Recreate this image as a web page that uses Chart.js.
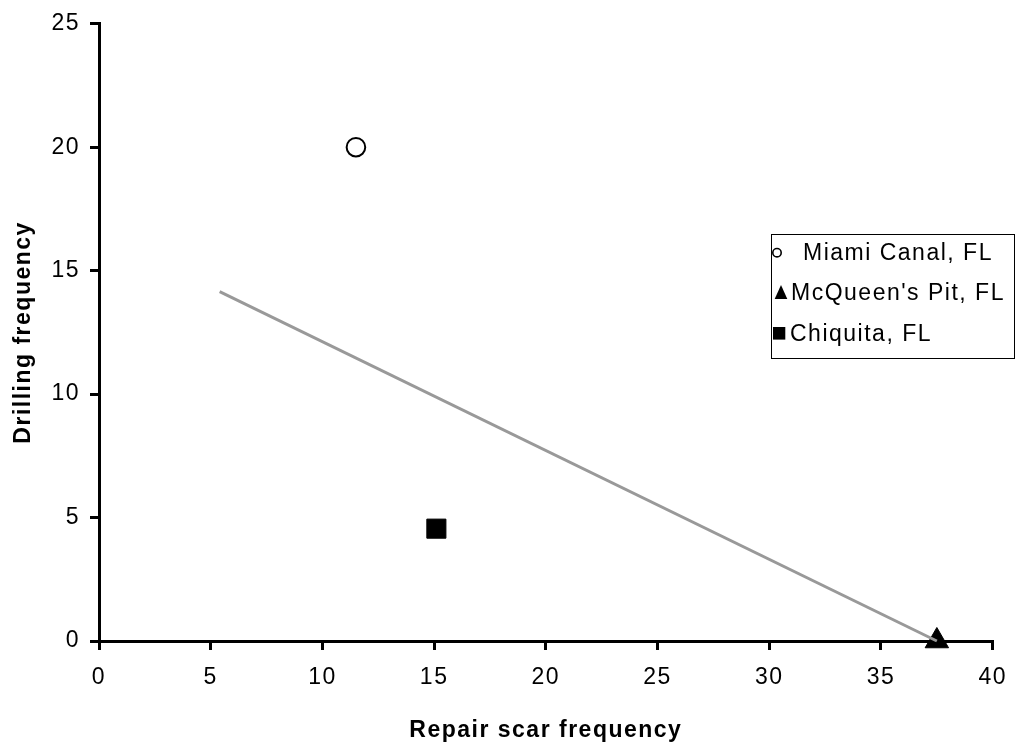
<!DOCTYPE html>
<html>
<head>
<meta charset="utf-8">
<script src="https://cdn.jsdelivr.net/npm/chart.js@4.4.1/dist/chart.umd.min.js"></script>
<style>
  html, body { margin: 0; padding: 0; background: #ffffff; }
  #wrap { width: 1021px; height: 744px; }
</style>
</head>
<body>
<div id="wrap"><canvas id="c" width="1021" height="744"></canvas></div>
<script>
// Site observations: repair scar frequency (x) vs drilling frequency (y)
const siteNames = ["Miami Canal, FL", "McQueen's Pit, FL", "Chiquita, FL"];
const repairScar = [11.5, 37.5, 15.1];
const drilling = [20.0, 0.0, 4.55];

// Fitted trend line endpoints
const trendX = [5.4, 37.5];
const trendY = [14.15, 0.0];

// Axis ranges and tick spacing
const xRange = [0, 40];
const yRange = [0, 25];
const tickStep = 5;

const FONT = "'Liberation Sans', Arial, sans-serif";
const FONT_SIZE = 23;
const LETTER_SPACING = '1.5px';

const markerStyles = [
  { pointStyle: 'circle',   radius: 9.3,  bg: '#ffffff', border: '#000000', bw: 2 },
  { pointStyle: 'triangle', radius: 13.5, bg: '#000000', border: '#000000', bw: 1 },
  { pointStyle: 'rect',     radius: 13.5, bg: '#000000', border: '#000000', bw: 1 }
];

const siteDatasets = siteNames.map((name, i) => ({
  label: name,
  data: [{ x: repairScar[i], y: drilling[i] }],
  pointStyle: markerStyles[i].pointStyle,
  pointRadius: markerStyles[i].radius,
  pointHoverRadius: markerStyles[i].radius,
  pointBackgroundColor: markerStyles[i].bg,
  pointBorderColor: markerStyles[i].border,
  pointBorderWidth: markerStyles[i].bw,
  showLine: false,
  clip: false
}));

const trendDataset = {
  label: 'trend',
  data: trendX.map((x, i) => ({ x: x, y: trendY[i] })),
  showLine: true,
  borderColor: '#999999',
  borderWidth: 3,
  pointRadius: 0,
  fill: false,
  clip: false
};

// Slightly wider text spacing for all canvas text
const textSpacing = {
  id: 'textSpacing',
  beforeUpdate(chart) { chart.ctx.letterSpacing = LETTER_SPACING; },
  beforeDraw(chart) { chart.ctx.letterSpacing = LETTER_SPACING; }
};

// Boxed legend at the right of the plot
const boxLegend = {
  id: 'boxLegend',
  afterDraw(chart) {
    const ctx = chart.ctx;
    ctx.save();
    ctx.letterSpacing = LETTER_SPACING;
    ctx.font = FONT_SIZE + 'px ' + FONT;

    const rows = [252.7, 292.5, 333.3];
    const textX = [803, 791, 790];
    let right = 0;
    siteNames.forEach((n, i) => { right = Math.max(right, textX[i] + ctx.measureText(n).width); });
    const boxLeft = 771.5, boxTop = 234.5, boxBottom = 358.5;
    const boxRight = Math.min(Math.round(right + 9) + 0.5, chart.width - 1.5);

    ctx.strokeStyle = '#000000';
    ctx.lineWidth = 1;
    ctx.strokeRect(boxLeft, boxTop, boxRight - boxLeft, boxBottom - boxTop);

    // circle
    ctx.beginPath();
    ctx.arc(777, rows[0], 4.2, 0, Math.PI * 2);
    ctx.fillStyle = '#ffffff';
    ctx.fill();
    ctx.lineWidth = 1.6;
    ctx.stroke();

    // triangle
    ctx.beginPath();
    ctx.moveTo(781, rows[1] - 7.5);
    ctx.lineTo(787.3, rows[1] + 6.5);
    ctx.lineTo(774.7, rows[1] + 6.5);
    ctx.closePath();
    ctx.fillStyle = '#000000';
    ctx.fill();

    // square
    ctx.fillRect(773, rows[2] - 6.3, 12.3, 12.6);

    ctx.fillStyle = '#000000';
    ctx.textBaseline = 'middle';
    ctx.textAlign = 'left';
    siteNames.forEach((n, i) => ctx.fillText(n, textX[i], rows[i] + 1));
    ctx.restore();
  }
};

new Chart(document.getElementById('c'), {
  type: 'scatter',
  data: { datasets: [trendDataset].concat(siteDatasets) },
  options: {
    responsive: false,
    animation: false,
    events: [],
    layout: { padding: { left: 0, top: 22, right: 24, bottom: 0 } },
    plugins: {
      legend: { display: false },
      tooltip: { enabled: false }
    },
    scales: {
      x: {
        type: 'linear',
        min: xRange[0],
        max: xRange[1],
        afterFit: s => { s.height = 103; },
        border: { display: true, color: '#000000', width: 3 },
        grid: { drawOnChartArea: false, drawTicks: true, tickLength: 9, color: '#000000', lineWidth: 3 },
        ticks: { stepSize: tickStep, color: '#000000', font: { family: FONT, size: FONT_SIZE }, padding: 14, maxRotation: 0 },
        title: { display: true, text: 'Repair scar frequency', color: '#000000',
                 font: { family: FONT, size: FONT_SIZE, weight: 'bold' }, padding: { top: 15, bottom: 0 } }
      },
      y: {
        type: 'linear',
        min: yRange[0],
        max: yRange[1],
        afterFit: s => { s.width = 99; },
        border: { display: true, color: '#000000', width: 3 },
        grid: { drawOnChartArea: false, drawTicks: true, tickLength: 9, color: '#000000', lineWidth: 3 },
        ticks: { stepSize: tickStep, color: '#000000', font: { family: FONT, size: FONT_SIZE }, padding: 10 },
        title: { display: true, text: 'Drilling frequency', color: '#000000',
                 font: { family: FONT, size: FONT_SIZE, weight: 'bold' }, padding: { top: 10, bottom: 0 } }
      }
    }
  },
  plugins: [textSpacing, boxLegend]
});
</script>
</body>
</html>
